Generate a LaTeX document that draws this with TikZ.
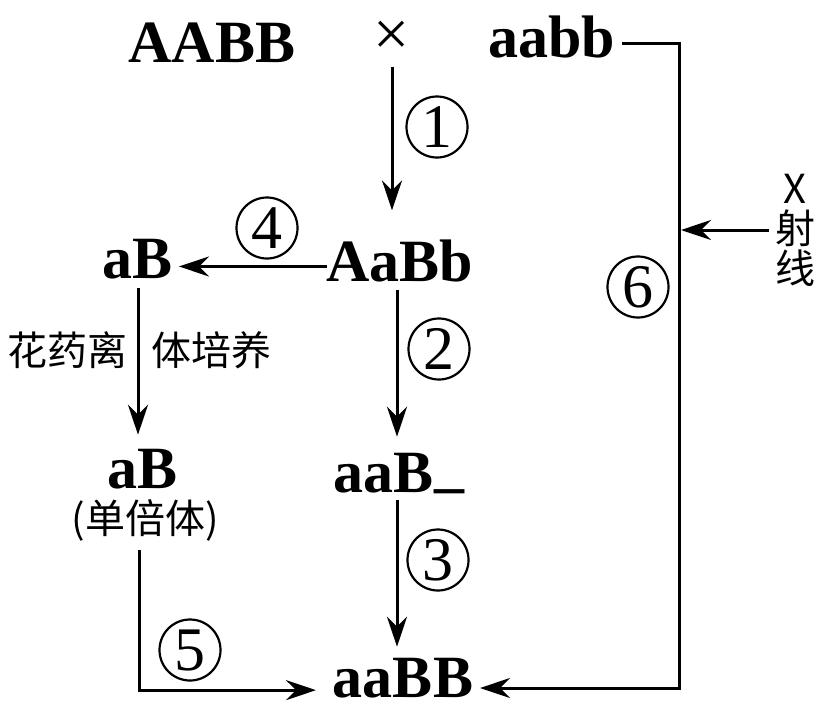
\documentclass[tikz,border=0pt]{standalone}
\usepackage{fontspec}
\setmainfont{Liberation Serif}
\newfontfamily\cjk{Noto Sans CJK SC}
\usetikzlibrary{arrows.meta}

\begin{document}
\begin{tikzpicture}[
    x=1pt, y=-1pt,
    geno/.style={inner sep=4pt, outer sep=0pt, anchor=base,
                 font=\fontsize{60}{66}\selectfont\bfseries},
    circnum/.style={draw, circle, line width=2.2pt, minimum size=61pt,
                    inner sep=0pt, font=\fontsize{62}{66}\selectfont},
    zh/.style={inner sep=4pt, outer sep=0pt, align=center,
               font=\cjk\fontsize{40}{40}\selectfont},
    arrow/.style={-{Stealth[length=30pt, width=20pt, inset=10pt]}, line width=3pt},
    wire/.style={line width=3pt}
  ]
    \useasboundingbox (0,0) rectangle (822,716);

    %% Parents
    \node[geno] (AABB) at (212,62) {AABB};
    \node[inner sep=4pt, font=\fontsize{64}{66}\selectfont] (cross) at (392,38) {×};
    \node[geno] (aabb) at (552,57) {aabb};

    %% F1 and its offspring
    \node[geno] (AaBb) at (400,281) {AaBb};
    \node[geno] (aBt)  at (138,278) {aB};
    \node[geno] (aBl)  at (143,488) {aB};
    \node[zh]   (hap)  at (145,520) {(单倍体)};
    \node[geno] (aaBm) at (399,492) {aaB\raisebox{.11em}{\_}};
    \node[geno] (aaBB) at (403,697) {aaBB};

    %% Side labels
    \node[zh] (hua)  at (67,350)  {花药离};
    \node[zh] (pei)  at (211,350) {体培养};
    \node[zh] (xray) at (795,230) {X\\射\\线};

    %% Step numbers
    \node[circnum] (n1) at (437,127) {1};
    \node[circnum] (n2) at (439,349) {2};
    \node[circnum] (n3) at (438,560) {3};
    \node[circnum] (n4) at (267,228) {4};
    \node[circnum] (n5) at (190,650) {5};
    \node[circnum] (n6) at (638,287) {6};

    \coordinate (rt) at (679,43);
    \coordinate (rb) at (679,688);

    %% Arrows
    \draw[arrow, shorten <=8pt, shorten >=25pt] (cross.south) -- (cross.south |- AaBb.north);
    \draw[arrow, shorten <=-4pt, shorten >=2pt]
        ([yshift=-6pt]AaBb.west) -- ([yshift=-6pt]AaBb.west -| aBt.east);
    \draw[arrow, shorten <=5pt, shorten >=10pt] (aBt.south) -- (aBt.south |- aBl.north);
    \draw[arrow, shorten <=4pt, shorten >=12pt]
        ([xshift=-3pt]AaBb.south) -- ([xshift=-3pt]AaBb.south |- aaBm.north);
    \draw[arrow, shorten <=2pt, shorten >=7pt]
        ([xshift=-2pt]aaBm.south) -- ([xshift=-2pt]aaBm.south |- aaBB.north);
    \draw[arrow, shorten <=5pt, shorten >=13pt]
        ([xshift=-6pt]hap.south) |- ([yshift=-12.5pt]aaBB.west);
    \draw[arrow, shorten <=3pt, shorten >=3pt]
        (aabb.east |- rt) -- (rt) -- (rb) -- (rb -| aaBB.east);
    \draw[arrow, shorten <=2pt, shorten >=2pt] (xray.west) -- (xray.west -| rt);
\end{tikzpicture}
\end{document}
